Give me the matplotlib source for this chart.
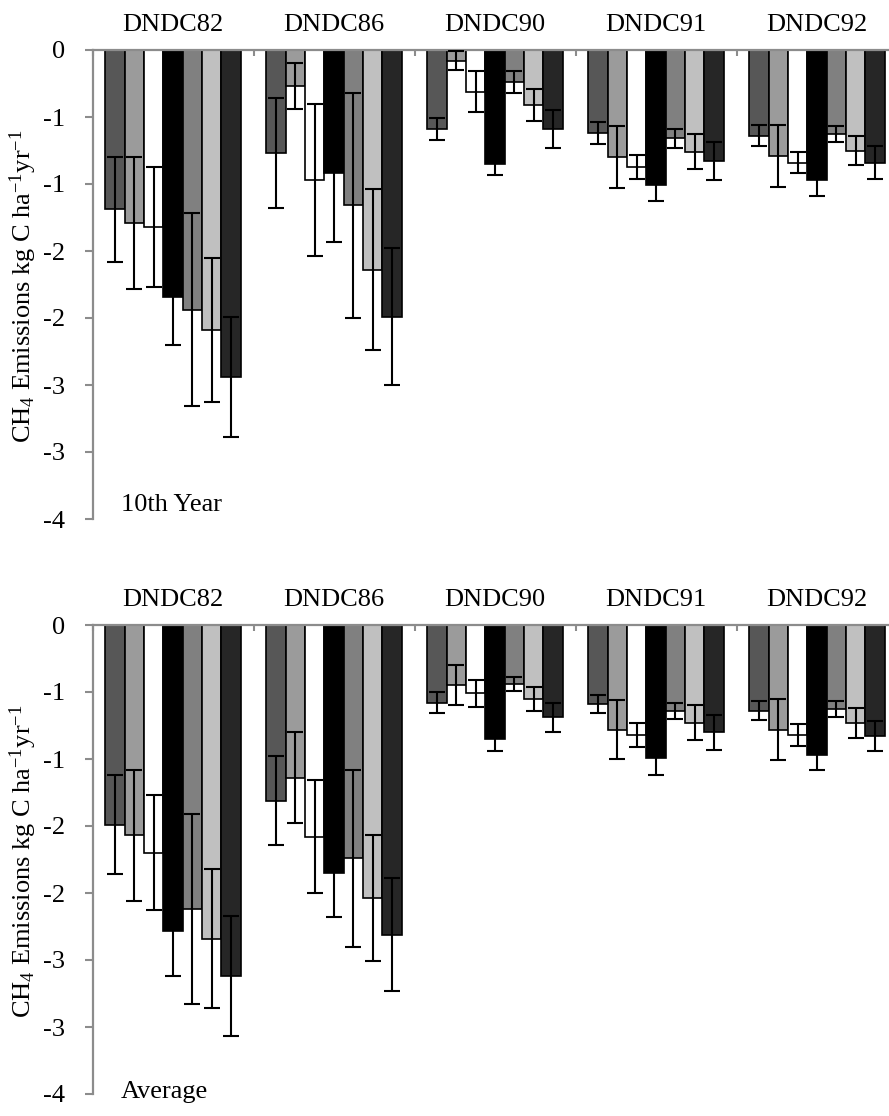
import matplotlib
matplotlib.use("Agg")
from matplotlib import pyplot as plt
import numpy as np

plt.rcParams['font.family'] = ['Liberation Serif', 'DejaVu Serif']
plt.rcParams['mathtext.fontset'] = 'custom'
plt.rcParams['mathtext.rm'] = 'Liberation Serif'
plt.rcParams['mathtext.it'] = 'Liberation Serif:italic'

#==============DATA==============
groups = ['DNDC82', 'DNDC86', 'DNDC90', 'DNDC91', 'DNDC92']

# 7 scenarios per model, one row per model
year10_vals = [[-1.19, -1.29, -1.32, -1.84, -1.94, -2.09, -2.44],
               [-0.77, -0.27, -0.97, -0.92, -1.16, -1.64, -1.99],
               [-0.59, -0.08, -0.31, -0.85, -0.24, -0.41, -0.59],
               [-0.62, -0.80, -0.87, -1.01, -0.66, -0.76, -0.83],
               [-0.64, -0.79, -0.84, -0.97, -0.63, -0.75, -0.84]]
year10_err = [[0.39, 0.49, 0.45, 0.36, 0.72, 0.54, 0.45],
              [0.41, 0.17, 0.57, 0.51, 0.84, 0.60, 0.51],
              [0.08, 0.07, 0.15, 0.08, 0.08, 0.12, 0.14],
              [0.08, 0.23, 0.09, 0.12, 0.07, 0.13, 0.14],
              [0.08, 0.23, 0.08, 0.12, 0.06, 0.11, 0.12]]

avg_vals = [[-1.49, -1.57, -1.70, -2.28, -2.12, -2.34, -2.62],
            [-1.31, -1.14, -1.58, -1.85, -1.74, -2.04, -2.31],
            [-0.58, -0.45, -0.51, -0.85, -0.44, -0.55, -0.69],
            [-0.59, -0.78, -0.82, -0.99, -0.64, -0.73, -0.80],
            [-0.64, -0.78, -0.82, -0.97, -0.63, -0.73, -0.83]]
avg_err = [[0.37, 0.49, 0.43, 0.34, 0.71, 0.52, 0.45],
           [0.33, 0.34, 0.42, 0.33, 0.66, 0.47, 0.42],
           [0.08, 0.15, 0.10, 0.09, 0.05, 0.09, 0.11],
           [0.07, 0.22, 0.09, 0.13, 0.06, 0.13, 0.13],
           [0.07, 0.23, 0.08, 0.11, 0.06, 0.11, 0.11]]

bar_colors = ['#575757', '#9b9b9b', '#ffffff', '#000000', '#808080', '#c0c0c0', '#262626']

y_ticks = [0, -0.5, -1, -1.5, -2, -2.5, -3, -3.5]
y_tick_labels = ['0', '-1', '-1', '-2', '-2', '-3', '-3', '-4']

ylabel = r'CH$_4$ Emissions kg C ha$^{-1}$yr$^{-1}$'
axis_gray = '#8c8c8c'
fs = 19

#==============FIGURE==============
fig = plt.figure(figsize=(8.89, 11.16), dpi=100)
W, H = 889.0, 1116.0


def panel(top_px, vals, errs, note):
    # axes box in pixels: left spine at x=92, 5 groups of 161 px each
    ax = fig.add_axes([92.5 / W, 1 - (top_px + 469) / H, 805 / W, 469 / H])
    n = len(bar_colors)
    bw = 0.12
    x = np.arange(len(groups))
    vals = np.array(vals)
    errs = np.array(errs)
    for k in range(n):
        xk = x + (k - (n - 1) / 2) * bw
        ax.bar(xk, vals[:, k], width=bw, color=bar_colors[k], edgecolor='black',
               linewidth=1.2, zorder=2)
        ax.errorbar(xk, vals[:, k], yerr=errs[:, k], fmt='none', ecolor='black',
                    elinewidth=1.5, capsize=6, capthick=1.5, zorder=3)

    ax.set_xlim(-0.5, len(groups) - 0.5)
    ax.set_ylim(-3.5, 0)
    ax.set_yticks(y_ticks)
    ax.set_yticklabels(y_tick_labels, fontsize=fs)

    # category axis sits on top at y=0, boundary ticks pointing down
    ax.xaxis.tick_top()
    ax.set_xticks(np.arange(len(groups) + 1) - 0.5)
    ax.set_xticklabels([])
    ax.tick_params(axis='x', direction='in', length=4, width=1.5, color=axis_gray)
    ax.tick_params(axis='y', direction='out', length=5.5, width=1.5, color=axis_gray, pad=14)

    for s in ['right', 'bottom']:
        ax.spines[s].set_visible(False)
    for s in ['top', 'left']:
        ax.spines[s].set_color(axis_gray)
        ax.spines[s].set_linewidth(1.6)

    for i, g in enumerate(groups):
        ax.annotate(g, xy=(i, 1.0), xycoords=('data', 'axes fraction'),
                    xytext=(0, 14), textcoords='offset points',
                    ha='center', va='baseline', fontsize=fs)

    ax.text(0.035, note[1], note[0], transform=ax.transAxes, fontsize=fs,
            ha='left', va='baseline')

    fig.text(23 / W, 1 - (top_px + 236) / H, ylabel, rotation=90,
             ha='center', va='center', fontsize=fs)
    return ax


panel(50, year10_vals, year10_err, ('10th Year', 0.017))
panel(625, avg_vals, avg_err, ('Average', -0.008))

fig.savefig('out.png', dpi=100)
